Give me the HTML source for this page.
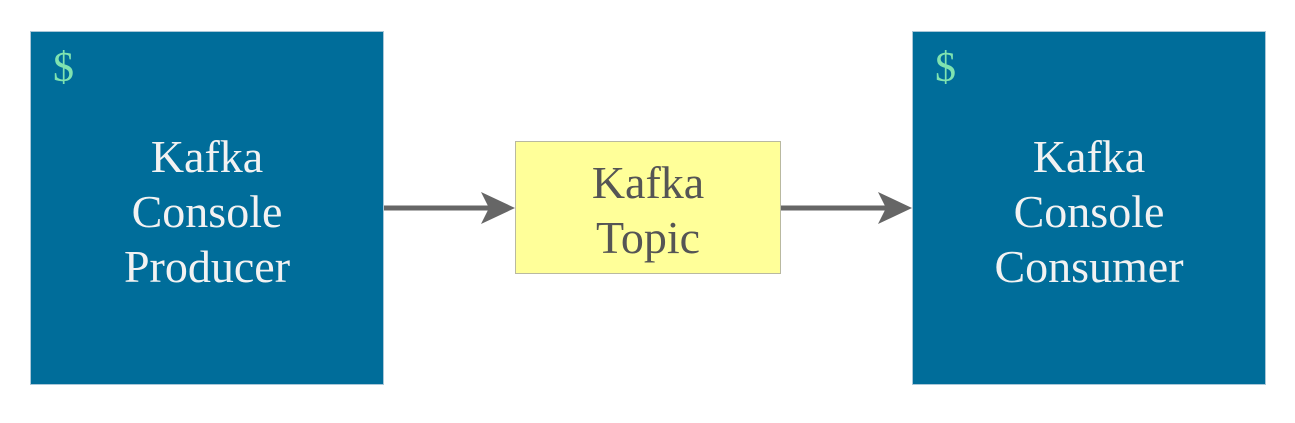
<!DOCTYPE html>
<html><head><style>
body{margin:0;width:1295px;height:423px;background:#fff;overflow:hidden;}
svg{display:block}
</style></head><body>
<svg width="1295" height="423" xmlns="http://www.w3.org/2000/svg" font-family="'Liberation Serif', serif">
<rect x="30.5" y="31.5" width="353" height="353" fill="#006d9a" stroke="#a9c7d8" stroke-width="1"/>
<rect x="912.5" y="31.5" width="353" height="353" fill="#006d9a" stroke="#a9c7d8" stroke-width="1"/>
<rect x="515.5" y="141.5" width="265" height="132" fill="#ffff99" stroke="#b9b9a0" stroke-width="1"/>
<line x1="384" y1="208" x2="500" y2="208" stroke="#666" stroke-width="5"/>
<path d="M515 208 L481 192 L489 208 L481 224 Z" fill="#666"/>
<line x1="781" y1="208" x2="897" y2="208" stroke="#666" stroke-width="5"/>
<path d="M912 208 L878 192 L886 208 L878 224 Z" fill="#666"/>
<text x="53" y="81" font-size="42" fill="#7fe3b0">$</text>
<text x="935" y="81" font-size="42" fill="#7fe3b0">$</text>
<g font-size="46" fill="#f2f2f2" text-anchor="middle">
<text x="207" y="172">Kafka</text><text x="207" y="227">Console</text><text x="207" y="282">Producer</text>
<text x="1089" y="172">Kafka</text><text x="1089" y="227">Console</text><text x="1089" y="282">Consumer</text>
</g>
<g font-size="46" fill="#555" text-anchor="middle">
<text x="648" y="198">Kafka</text><text x="648" y="253">Topic</text>
</g>
</svg>
</body></html>
